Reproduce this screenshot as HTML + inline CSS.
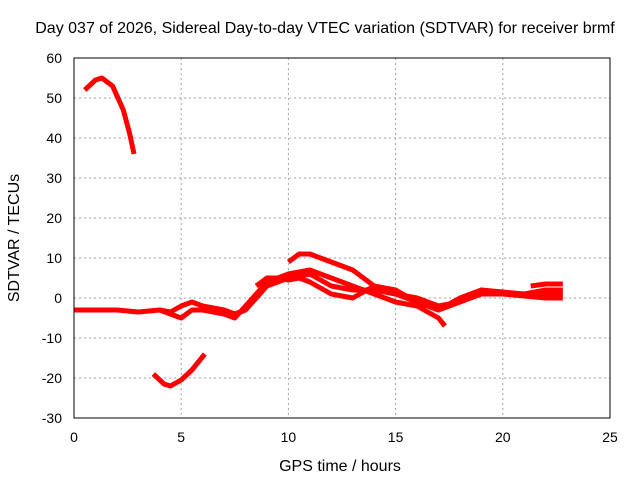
<!DOCTYPE html>
<html><head><meta charset="utf-8"><style>
body{margin:0;background:#fff;}
svg text{font-family:"Liberation Sans",sans-serif;font-size:14px;fill:#000;}
svg text.big{font-size:16px;}
</style></head><body>
<svg id="chart" width="640" height="480">
<rect width="640" height="480" fill="#fff"/>
<g id="grid"></g>
<g id="series" fill="none" stroke="#ff0000" stroke-width="5" stroke-linejoin="round" stroke-linecap="butt"></g>
<rect x="74" y="58" width="536" height="360" fill="none" stroke="#000" stroke-width="1"/>
<g id="ticks"></g>
<text class="big" x="325" y="33" text-anchor="middle">Day 037 of 2026, Sidereal Day-to-day VTEC variation (SDTVAR) for receiver brmf</text>
<text class="big" x="340" y="471" text-anchor="middle">GPS time / hours</text>
<text class="big" transform="translate(19,238) rotate(-90)" text-anchor="middle">SDTVAR / TECUs</text>
</svg>
<script>
const xTicks=[0,5,10,15,20,25];
const yTicks=[-30,-20,-10,0,10,20,30,40,50,60];
const trackA=[[0.5,52],[1,54.5],[1.3,55],[1.8,53],[2.3,47],[2.6,41],[2.8,36]];
const trackB=[[3.7,-19],[4.2,-21.5],[4.5,-22],[5,-20.5],[5.5,-18],[6.1,-14]];
const trackC=[[0,-3],[1,-3],[2,-3],[3,-3.5],[4,-3],[4.5,-3.5],[5,-2],[5.5,-1],[6,-2],[7,-3],[7.5,-4],[8,-3],[9,3],[10,5],[11,6],[12,3],[13,2],[14,2],[15,1],[16,-1],[17,-3],[18,-1],[19,1],[20,1],[21,1],[22,1],[22.8,1]];
const trackD=[[4,-3],[5,-5],[5.5,-3],[6,-3],[7,-4],[7.5,-5],[8,-2],[8.5,1],[9,4],[10,6],[11,7],[12,5],[13,3],[14,1],[15,-1],[16,-2],[17,-5],[17.3,-7]];
const trackE=[[10,9],[10.5,11],[11,11],[12,9],[13,7],[14,3],[15,1],[16,0],[17,-2],[18,-1],[19,2],[20,1],[21,0.5],[22,0],[22.8,0]];
const trackF=[[8.5,3],[9,5],[9.5,5],[10,4.5],[10.5,5],[11,4],[12,1],[13,0],[14,3],[15,2],[16,-1],[17,-3],[18,0],[19,2],[20,1.5],[21,1],[22,2],[22.8,2]];
const trackG=[[21.3,3],[22,3.5],[22.8,3.5]];
const tracks=[trackA,trackB,trackC,trackD,trackE,trackF,trackG];
const X0=74,X1=610,Y0=418,Y1=58;
const sx=v=>X0+(v-0)/(25-0)*(X1-X0);
const sy=v=>Y0-(v+30)/(90)*(Y0-Y1);
const NS="http://www.w3.org/2000/svg";
const grid=document.getElementById('grid'),ticks=document.getElementById('ticks'),ser=document.getElementById('series');
xTicks.forEach(t=>{
 const x=sx(t);
 if(t>0&&t<25){const l=document.createElementNS(NS,'line');
 
 
 l.setAttribute('x1',x);l.setAttribute('x2',x);l.setAttribute('y1',Y1);l.setAttribute('y2',Y0);
 l.setAttribute('stroke','#a0a0a0');l.setAttribute('stroke-dasharray','2,3');grid.appendChild(l);}
 const tx=document.createElementNS(NS,'text');
 
 
 tx.setAttribute('x',x);tx.setAttribute('y',Y0+24);tx.setAttribute('text-anchor','middle');tx.textContent=t;ticks.appendChild(tx);
});
yTicks.forEach(t=>{
 const y=sy(t);
 if(t>-30&&t<60){const l=document.createElementNS(NS,'line');
 
 
 l.setAttribute('x1',X0);l.setAttribute('x2',X1);l.setAttribute('y1',y);l.setAttribute('y2',y);
 l.setAttribute('stroke','#a0a0a0');l.setAttribute('stroke-dasharray','2,3');grid.appendChild(l);}
 const tx=document.createElementNS(NS,'text');
 
 
 tx.setAttribute('x',X0-12);tx.setAttribute('y',y+5);tx.setAttribute('text-anchor','end');tx.textContent=t;ticks.appendChild(tx);
});
tracks.forEach(tr=>{
 const p=document.createElementNS(NS,'polyline');
 
 
 p.setAttribute('points',tr.map(d=>sx(d[0])+','+sy(d[1])).join(' '));
 ser.appendChild(p);
});
</script>
</body></html>
